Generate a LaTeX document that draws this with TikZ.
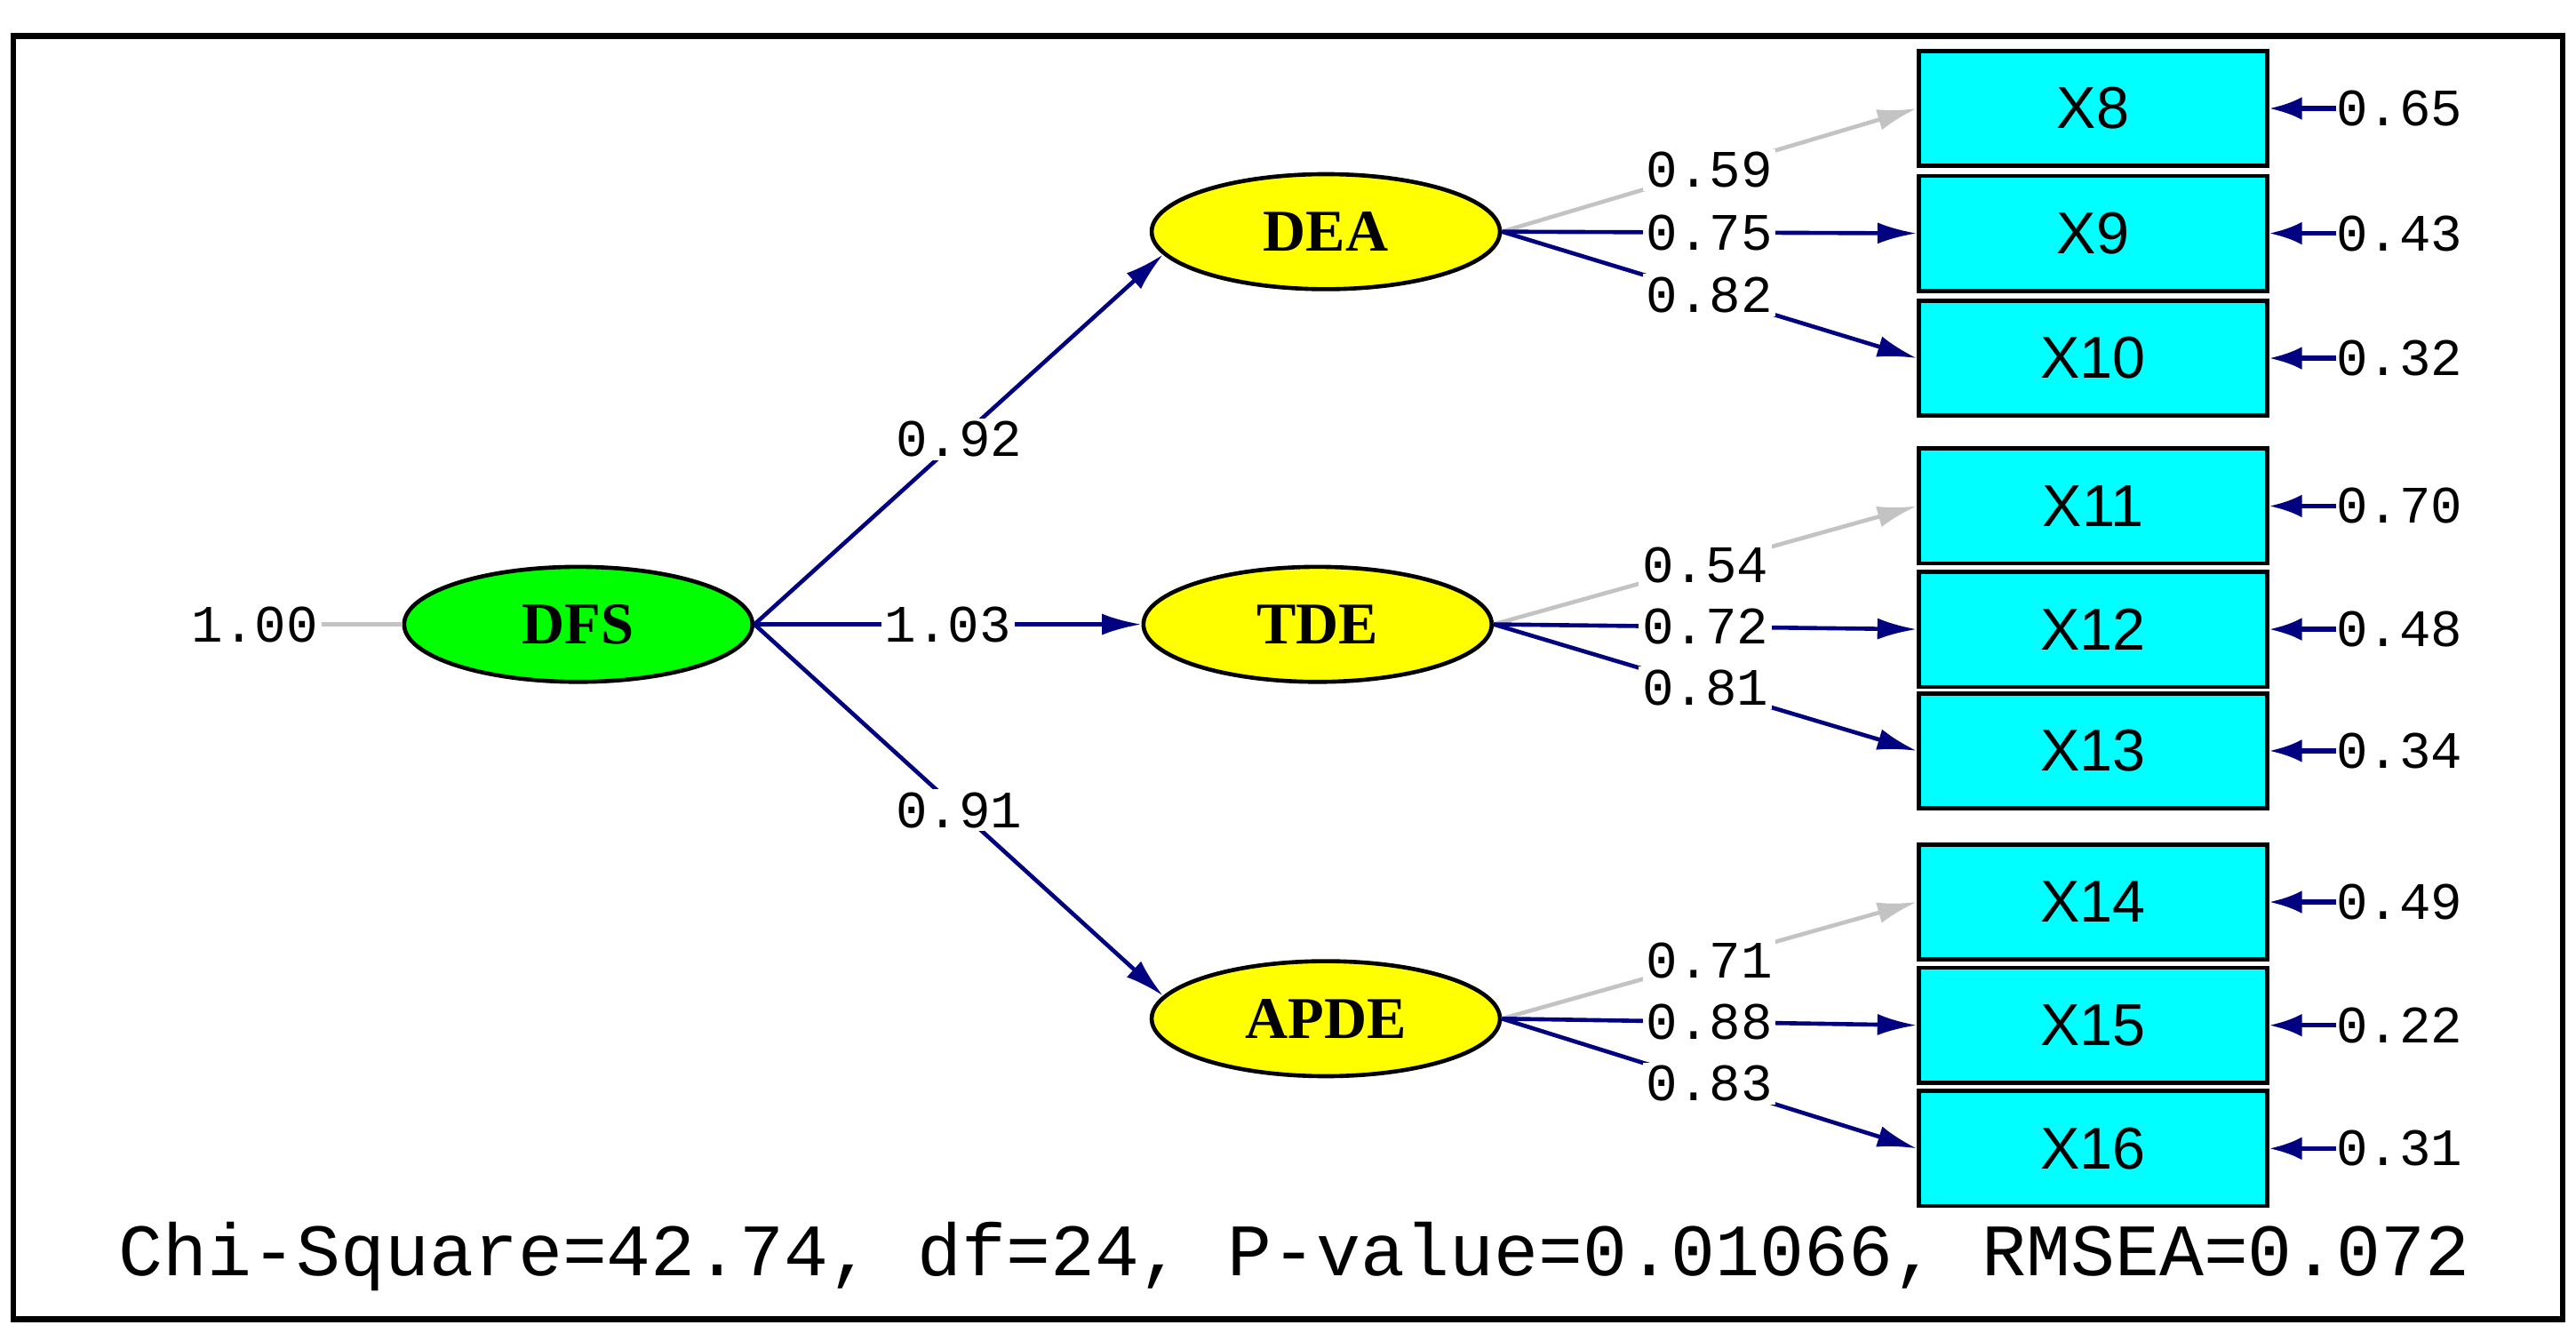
\documentclass[tikz,border=0pt]{standalone}
\usepackage{fontspec}
\setmainfont{Liberation Serif}
\newfontfamily\monof{Liberation Mono}
\newfontfamily\sansf{Liberation Sans}
\usetikzlibrary{shapes.geometric,arrows.meta}
\definecolor{navy}{RGB}{0,0,128}
\definecolor{lgray}{RGB}{195,195,195}
\definecolor{cyanb}{RGB}{0,255,255}
\definecolor{greenb}{RGB}{0,255,0}
\definecolor{yellowb}{RGB}{255,255,0}
\begin{document}
\begin{tikzpicture}[x=1pt,y=-1pt,
  lat/.style={ellipse,draw=black,line width=2.5pt,minimum width=212pt,minimum height=70pt,inner sep=0pt,font=\fontsize{36}{36}\selectfont\bfseries},
  obs/.style={rectangle,draw=black,line width=2.5pt,fill=cyanb,minimum width=212pt,minimum height=70pt,inner sep=0pt,font=\sansf\fontsize{36}{36}\selectfont},
  path/.style={line width=2.5pt,draw=navy,-{Latex[length=24pt,width=13pt]}},
  gpath/.style={line width=2.5pt,draw=lgray,-{Latex[length=24pt,width=13pt]}},
  lab/.style={fill=white,inner sep=2pt,font=\monof\fontsize{32}{32}\selectfont,text=black},
  err/.style={line width=3pt,draw=navy,-{Latex[length=20pt,width=14pt]}},
  elab/.style={anchor=west,inner sep=0pt,font=\monof\fontsize{32}{32}\selectfont}]
\useasboundingbox (0,0) rectangle (1568,811);
\draw[line width=3.5pt] (8,22) rectangle (1560,803);

\node[lat,fill=greenb] (DFS) at (352,380) {DFS};
\node[lat,fill=yellowb] (DEA) at (807,141) {DEA};
\node[lat,fill=yellowb] (TDE) at (802,380) {TDE};
\node[lat,fill=yellowb] (APDE) at (807,620) {APDE};

\foreach \n/\y in {8/66,9/142,10/218,11/308,12/383,13/457,14/549,15/624,16/699}{
  \node[obs] (X\n) at (1274,\y) {X\n};
}

\node[lab] (l100) at (155,380) {1.00};
\draw[line width=2.5pt,draw=lgray] (l100.east) -- (DFS.west);

\draw[path] (DFS.east) -- node[lab]{0.92} (DEA.188);
\draw[path] (DFS.east) -- node[lab]{1.03} (TDE.west);
\draw[path] (DFS.east) -- node[lab]{0.91} (APDE.172);

\draw[gpath] (DEA.east) -- node[lab]{0.59} (X8.west);
\draw[path] (DEA.east) -- node[lab]{0.75} (X9.west);
\draw[path] (DEA.east) -- node[lab]{0.82} (X10.west);
\draw[gpath] (TDE.east) -- node[lab]{0.54} (X11.west);
\draw[path] (TDE.east) -- node[lab]{0.72} (X12.west);
\draw[path] (TDE.east) -- node[lab]{0.81} (X13.west);
\draw[gpath] (APDE.east) -- node[lab]{0.71} (X14.west);
\draw[path] (APDE.east) -- node[lab]{0.88} (X15.west);
\draw[path] (APDE.east) -- node[lab]{0.83} (X16.west);

\foreach \n/\y/\v in {8/66/0.65,9/142/0.43,10/218/0.32,11/308/0.70,12/383/0.48,13/457/0.34,14/549/0.49,15/624/0.22,16/699/0.31}{
  \coordinate (e\n) at (1422,\y);
  \draw[err] (e\n) -- (X\n.east);
  \node[elab] (el\n) at (e\n) {\v};
}

\node[font=\monof\fontsize{45}{45}\selectfont] (fit) at (788,765) {Chi-Square=42.74, df=24, P-value=0.01066, RMSEA=0.072};
\end{tikzpicture}
\end{document}
